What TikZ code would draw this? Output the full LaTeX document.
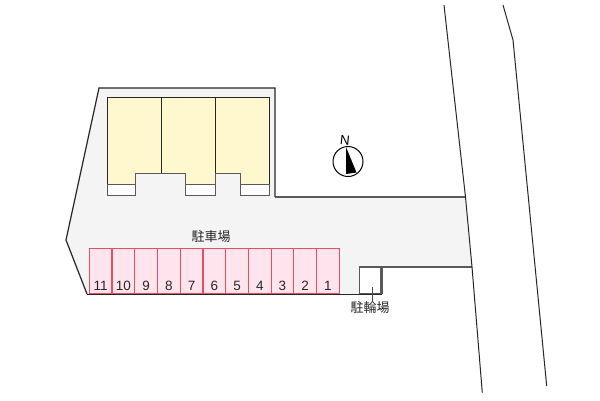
\documentclass[tikz,border=0pt]{standalone}
\usepackage{fontspec}
\setmainfont{Liberation Sans}
\newfontfamily\cjk{Noto Sans CJK JP}
\definecolor{bayline}{HTML}{E4505F}
\definecolor{bayfill}{HTML}{FFE4EE}
\definecolor{ground}{HTML}{F4F4F4}
\definecolor{house}{HTML}{FFF8CE}
\tikzset{
  x=1pt,y=-1pt,
  wall/.style={draw=black!85,line width=1.2pt,line join=miter},
  wallg/.style={draw=black!65,line width=1.2pt},
  road/.style={draw=black!85,line width=1pt},
  bay/.style={draw=bayline,fill=bayfill,line width=1.1pt,outer sep=0pt,minimum width=22.73pt,minimum height=44.6pt,inner sep=0pt,anchor=north west},
  num/.style={font=\fontsize{13.5}{13.5}\selectfont,text=black!85,inner sep=0pt,anchor=base},
  lab/.style={font=\cjk\fontsize{13}{13}\selectfont,text=black!85,inner sep=0pt},
}
\begin{document}
\begin{tikzpicture}
\useasboundingbox (0,0) rectangle (600,400);
\fill[white] (0,0) rectangle (600,400);
% ground
\fill[ground] (99,88) -- (275,88) -- (275,197) -- (465.5,197) -- (472,267) -- (382,267) -- (382,294) -- (87,294) -- (66,240) -- cycle;
\draw[wall] (87,294) -- (66,240) -- (99,88) -- (275,88) -- (275,197);
\draw[wallg] (275,197) -- (465.5,197);
\draw[wallg] (472,267) -- (382,267) -- (382,294);
% building
\fill[house] (107.3,97.3) -- (269.5,97.3) -- (269.5,184.7) -- (240.7,184.7) -- (240.7,173) -- (215.5,173) -- (215.5,184.7) -- (185.6,184.7) -- (185.6,173) -- (135.4,173) -- (135.4,184.7) -- (107.3,184.7) -- cycle;
\draw[wall,line width=1pt] (107.3,184.7) -- (107.3,97.3) -- (269.5,97.3) -- (269.5,184.7);
\draw[wall,line width=1pt] (161.4,97.3) -- (161.4,173);
\draw[wall,line width=1pt] (215.5,97.3) -- (215.5,195.7);
\fill[white] (107.3,184.7) rectangle (135.4,195.7);
\fill[white] (185.6,184.7) rectangle (215.5,195.7);
\fill[white] (240.7,184.7) rectangle (269.5,195.7);
\draw[wallg,line width=1pt] (107.3,184.7) -- (135.4,184.7) (185.6,184.7) -- (215.5,184.7) (240.7,184.7) -- (269.5,184.7);
\draw[wallg,line width=1pt] (107.3,184.7) -- (107.3,195.7) -- (135.4,195.7) -- (135.4,173) -- (185.6,173) -- (185.6,195.7) -- (215.5,195.7) -- (215.5,173) -- (240.7,173) -- (240.7,195.7) -- (269.5,195.7) -- (269.5,184.7);
% parking
\foreach \n [count=\i from 0] in {11,10,9,8,7,6,5,4,3,2,1}{
  \node[bay] (b\n) at ({89.3+22.73*\i},248.7) {};
  \node[num] at ({100.66+22.73*\i},290.6) {\n};
}
\draw[wall] (87,294.4) -- (382,294.4);
% bicycle
\node[draw=black!65,fill=white,line width=1.2pt,outer sep=0pt,minimum width=20.5pt,minimum height=26.5pt,inner sep=0pt,anchor=north west] (bike) at (359.8,267) {};
\node[lab] (bikelab) at (370,308) {駐輪場};
\coordinate (bikein) at (372.7,287);
\draw[black!70,line width=.8pt] (bikein) -- (372.7,301);
\node[lab] (park) at (211,237) {駐車場};
% road
\draw[road] (444,5) -- (450,59) -- (465.5,197) -- (472,267) -- (482.3,392.7);
\draw[road] (503,5) -- (513,40) -- (546.7,386);
% compass
\draw[black,line width=1pt,fill=white] (348,161.5) circle (15);
\fill[black] (346,147) -- (356.5,172.5) -- (346,174) -- cycle;
\node[font=\fontsize{13.5}{13.5}\selectfont,inner sep=0pt,rotate=-6] (north) at (345,140) {N};
\end{tikzpicture}
\end{document}
